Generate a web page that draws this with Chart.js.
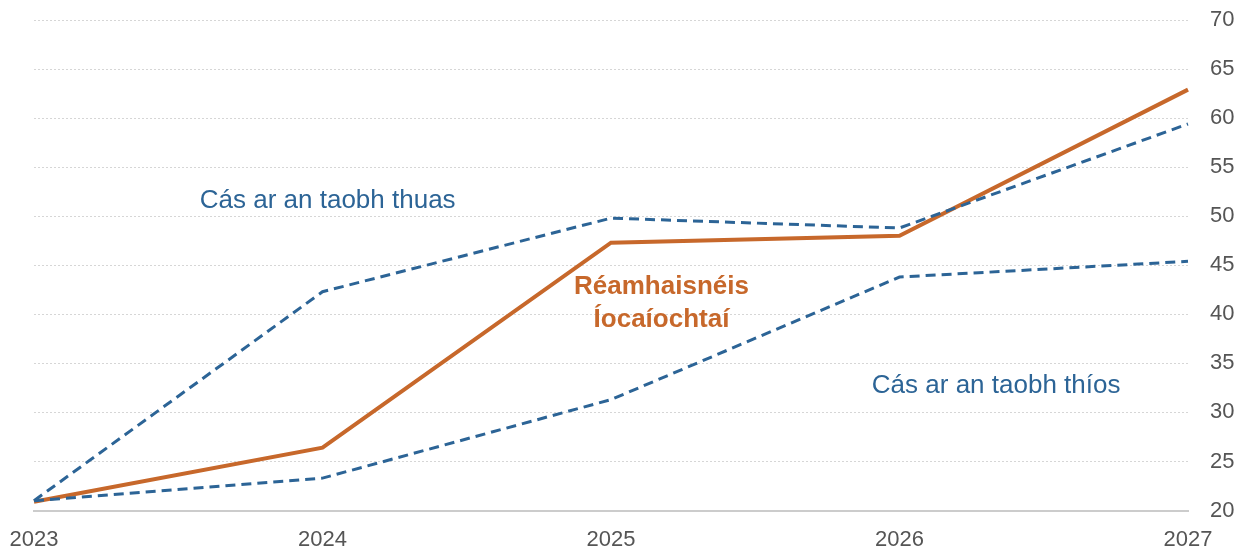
<!DOCTYPE html>
<html>
<head>
<meta charset="utf-8">
<script src="https://cdn.jsdelivr.net/npm/chart.js@4"></script>
<style>
  body { margin: 0; background: #fff; }
  #myChart { display: block; }
</style>
</head>
<body>
<canvas id="myChart" width="1245" height="552"></canvas>
<script>
const years = ['2023', '2024', '2025', '2026', '2027'];
const forecast = [20.9, 26.4, 47.3, 48.0, 62.9];
const upside = [21.0, 42.3, 49.8, 48.8, 59.4];
const downside = [21.0, 23.3, 31.3, 43.8, 45.4];
const yTicks = [20, 25, 30, 35, 40, 45, 50, 55, 60, 65, 70];

const orange = '#c7682b';
const blue = '#2c6496';
const font = 'Liberation Sans, Arial, sans-serif';

// text labels placed next to the lines
const labels = [
  { lines: ['Cás ar an taobh thuas'], x: 1.018, y: 51.6, color: blue, bold: false },
  { lines: ['Réamhaisnéis', 'Íocaíochtaí'], x: 2.175, y: 42.8, color: orange, bold: true },
  { lines: ['Cás ar an taobh thíos'], x: 3.335, y: 32.7, color: blue, bold: false }
];

const labelPlugin = {
  id: 'labels',
  afterDatasetsDraw(chart) {
    const c = chart.ctx;
    const xs = chart.scales.x, ys = chart.scales.y;
    c.save();
    c.textAlign = 'center';
    c.textBaseline = 'middle';
    labels.forEach(l => {
      c.font = (l.bold ? 'bold ' : '') + '26px ' + font;
      c.fillStyle = l.color;
      const px = xs.getPixelForValue(l.x);
      const py = ys.getPixelForValue(l.y);
      l.lines.forEach((t, i) => c.fillText(t, px, py + i * 33));
    });
    c.restore();
  }
};

new Chart(document.getElementById('myChart'), {
  type: 'line',
  data: {
    labels: years,
    datasets: [
      { data: downside, borderColor: blue, borderWidth: 3, borderDash: [10, 6], pointRadius: 0, tension: 0 },
      { data: upside, borderColor: blue, borderWidth: 3, borderDash: [10, 6], pointRadius: 0, tension: 0 },
      { data: forecast, borderColor: orange, borderWidth: 4, pointRadius: 0, tension: 0 }
    ]
  },
  options: {
    responsive: false,
    animation: false,
    layout: { padding: { left: 34, top: 20, right: 0, bottom: 0 } },
    plugins: {
      legend: { display: false },
      tooltip: { enabled: false }
    },
    scales: {
      x: {
        grid: { display: false },
        border: { display: true, color: '#cccccc', width: 2 },
        ticks: { color: '#555', font: { family: font, size: 22 }, padding: 8, maxRotation: 0 },
        afterFit(s) { s.height = 41.5; }
      },
      y: {
        position: 'right',
        min: 20,
        max: 70,
        afterBuildTicks(s) { s.ticks = yTicks.map(v => ({ value: v })); },
        grid: {
          drawTicks: true,
          tickLength: 22,
          tickColor: 'rgba(0,0,0,0)',
          color: ctx => ctx.tick && ctx.tick.value === 20 ? 'rgba(0,0,0,0)' : '#d6d6d6',
          lineWidth: 1
        },
        border: { display: false, dash: [2, 2] },
        ticks: { color: '#555', font: { family: font, size: 22 }, padding: 0 },
        afterFit(s) { s.width = 57; }
      }
    }
  },
  plugins: [labelPlugin]
});
</script>
</body>
</html>
